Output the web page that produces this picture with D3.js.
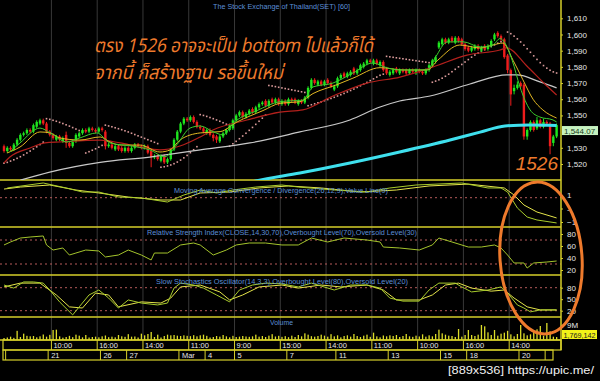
<!DOCTYPE html>
<html>
<head>
<meta charset="utf-8">
<script src="https://cdnjs.cloudflare.com/ajax/libs/d3/7.8.5/d3.min.js"></script>
<style>
body { margin: 0; background: #000; }
svg { display: block; font-family: "Liberation Sans", Arial, sans-serif; }
</style>
</head>
<body>
<svg id="chart" width="600" height="381"></svg>
<script>
// hourly SET bars, 20 Feb - 21 Mar
const open = [
  1531,1528,1530,1529,1532,1535,1538,1539,1541,1540,
  1543,1545,1547,1545,1540,1538,1535,1537,1534,1538,
  1533,1531,1534,1537,1539,1541,1540,1542,1541,1540,
  1542,1540,1531,1532,1529,1531,1530,1528,1530,1528,
  1530,1532,1531,1530,1531,1528,1524,1525,1522,1525,
  1521,1523,1529,1535,1540,1545,1548,1547,1549,1546,
  1543,1542,1539,1541,1538,1537,1534,1537,1539,1541,
  1542,1547,1550,1552,1549,1551,1554,1552,1555,1557,
  1559,1556,1560,1558,1560,1557,1559,1557,1560,1560,
  1557,1559,1558,1561,1567,1572,1569,1571,1569,1572,
  1570,1566,1568,1573,1576,1574,1575,1579,1576,1578,
  1580,1582,1584,1582,1584,1581,1583,1579,1575,1576,
  1579,1576,1578,1578,1576,1578,1576,1578,1577,1576,
  1578,1581,1583,1592,1594,1597,1595,1598,1595,1598,
  1597,1594,1592,1590,1591,1593,1590,1593,1591,1593,
  1597,1601,1599,1597,1587,1578,1565,1567,1570,1569,
  1537,1541,1546,1542,1547,1543,1546,1545,1533,1537
];
const high = [
  1532,1531,1531,1533,1536,1539,1540,1542,1542,1545,
  1547,1548,1548,1546,1541,1539,1538,1538,1537,1540,
  1534,1535,1539,1540,1542,1542,1543,1543,1542,1543,
  1543,1541,1533,1533,1532,1532,1531,1531,1531,1531,
  1533,1533,1532,1532,1532,1529,1526,1526,1526,1526,
  1524,1530,1536,1541,1546,1549,1549,1550,1550,1547,
  1544,1543,1542,1542,1539,1538,1538,1540,1542,1545,
  1548,1551,1553,1553,1552,1554,1555,1556,1558,1559,
  1560,1560,1561,1561,1561,1560,1560,1561,1561,1561,
  1560,1560,1562,1568,1573,1573,1572,1572,1572,1573,
  1571,1569,1574,1576,1577,1577,1578,1580,1579,1582,
  1583,1585,1585,1585,1585,1584,1584,1580,1578,1579,
  1580,1579,1579,1579,1579,1579,1579,1579,1578,1579,
  1582,1585,1587,1596,1598,1598,1598,1599,1599,1599,
  1598,1595,1593,1593,1594,1594,1593,1594,1594,1597,
  1601,1602,1600,1598,1588,1579,1569,1571,1571,1570,
  1542,1547,1547,1549,1548,1548,1547,1546,1538,1545
];
const low = [
  1527,1527,1528,1528,1531,1534,1537,1538,1539,1539,
  1542,1544,1544,1539,1537,1535,1534,1534,1533,1530,
  1530,1530,1533,1536,1538,1539,1539,1540,1539,1539,
  1540,1529,1530,1529,1528,1528,1527,1527,1527,1527,
  1529,1530,1529,1529,1526,1518,1523,1522,1521,1520,
  1520,1522,1528,1534,1539,1544,1546,1546,1545,1542,
  1541,1539,1538,1537,1534,1533,1533,1536,1538,1540,
  1541,1546,1549,1548,1548,1550,1551,1551,1554,1556,
  1555,1555,1557,1557,1556,1556,1556,1556,1558,1557,
  1556,1557,1557,1560,1566,1569,1568,1568,1568,1569,
  1567,1565,1567,1572,1573,1573,1574,1575,1575,1577,
  1579,1581,1582,1581,1581,1580,1577,1575,1574,1575,
  1576,1575,1576,1575,1575,1576,1575,1576,1575,1575,
  1577,1580,1582,1591,1593,1594,1594,1595,1594,1595,
  1593,1590,1589,1589,1590,1590,1589,1590,1590,1592,
  1596,1598,1596,1585,1576,1556,1563,1566,1567,1535,
  1535,1540,1540,1541,1542,1542,1544,1526,1531,1536
];
const close = [
  1528,1530,1529,1532,1535,1538,1539,1541,1540,1544,
  1546,1547,1545,1540,1538,1536,1537,1535,1536,1533,
  1531,1534,1538,1539,1541,1540,1542,1541,1540,1542,
  1541,1531,1532,1530,1531,1529,1528,1530,1528,1530,
  1532,1531,1530,1531,1527,1524,1525,1523,1525,1521,
  1523,1529,1535,1540,1545,1548,1547,1549,1546,1543,
  1542,1540,1541,1538,1536,1535,1537,1539,1541,1544,
  1547,1550,1552,1549,1551,1553,1552,1555,1557,1558,
  1556,1559,1558,1560,1557,1559,1557,1560,1559,1558,
  1559,1558,1561,1567,1572,1570,1571,1569,1571,1570,
  1568,1568,1573,1575,1574,1576,1577,1576,1578,1581,
  1582,1584,1583,1584,1582,1583,1578,1576,1577,1578,
  1577,1578,1577,1576,1578,1577,1578,1577,1576,1578,
  1581,1584,1586,1595,1597,1595,1597,1596,1598,1596,
  1594,1591,1590,1592,1593,1591,1592,1591,1593,1596,
  1600,1599,1597,1586,1578,1563,1567,1569,1568,1537,
  1541,1546,1541,1547,1543,1546,1545,1531,1537,1544.07
];
// volume in millions
const volume = [
  1.2,1.5,2.0,1.3,5.5,1.8,3.8,2.5,2.2,2.4,
  1.6,2.2,3.3,2.0,3.1,6.0,6.2,2.2,1.4,1.8,
  2.5,1.7,3.2,2.6,1.6,3.0,1.5,1.8,2.0,1.6,
  2.2,2.7,1.7,2.0,1.6,3.0,2.2,1.9,3.5,2.0,
  2.1,1.5,3.8,2.8,3.6,4.8,1.8,3.2,1.5,2.4,
  3.2,2.8,3.0,2.6,2.4,2.8,2.5,2.3,2.9,2.2,
  2.8,3.2,2.5,1.5,1.8,2.4,2.0,3.0,2.2,1.6,
  2.5,1.8,2.0,2.4,2.1,1.9,2.2,3.2,2.0,2.4,
  1.8,2.6,3.5,2.1,2.5,1.9,2.3,1.7,2.6,1.8,
  3.0,2.2,4.0,3.2,2.3,2.0,2.4,3.2,2.6,2.0,
  3.5,2.2,2.8,1.6,2.4,2.8,2.0,3.6,2.4,1.8,
  2.6,3.2,1.9,4.4,2.2,1.6,2.7,2.2,2.8,2.4,
  3.0,1.8,2.4,3.6,2.2,1.9,2.6,2.1,3.4,2.0,
  2.8,2.2,3.6,6.2,4.0,3.2,2.6,2.4,1.8,6.6,
  2.0,3.0,6.0,3.0,2.4,3.2,9.0,8.2,4.6,3.0,
  6.0,2.6,3.8,4.4,5.5,3.4,2.2,3.6,9.0,4.0,
  2.8,3.4,4.8,6.4,8.4,2.6,10.2,5.2,2.0,1.769142
];
const lastVolume = 1769142;
// parabolic SAR, one dot per bar
const sar = [
  1520.5,1521,1521.8,1522.6,1523.5,1524.5,1525.6,1526.8,1528,1529.3,1530.6,1532,1533.5,
  1548,1547.6,1547,1546.4,1545.7,1545,1544.2,1543.4,1542.5,1541.6,1540.7,1539.8,
  1526.8,1527.6,1528.5,1529.4,1530.4,1531.5,
  1544,1543.5,1543,1542.4,1541.8,1541.2,1540.5,1539.8,1539,1538.2,1537.4,1536.6,1535.8,1535,1534.2,1533.4,1532.6,
  1518,1518.3,1518.8,1519.4,1520.2,1521.2,1522.4,1523.8,1525.3,1527,1528.8,1530.7,
  1550.5,1550,1549.4,1548.7,1548,1547.2,1546.4,1545.5,1544.6,
  1531,1532.5,1534,1535.6,1537.3,1539,1540.8,1542.6,1544.5,1546.4,1548.3,1550.2,
  1568.5,1568.2,1567.8,1567.4,1567,1566.6,1566.2,1565.8,1565.4,1565,1564.6,1564.2,
  1556,1556.6,1557.2,1557.8,1558.4,1559.1,1559.8,1560.5,1561.2,1562,1562.8,1563.6,
  1564.5,1565.4,1566.3,1567.3,1568.3,1569.3,1570.4,1571.5,1572.6,1573.7,1574.8,1575.5,
  1586.5,1586.2,1585.9,1585.6,1585.3,1585,1584.7,1584.4,1584.1,1583.8,1583.5,1583.2,1582.9,1582.6,
  1570.5,1571.2,1572,1573,1574.2,1575.5,1577,1578.5,1580,1581.5,1583,1584.5,1586,1587.3,
  1588.5,1589.6,1590.6,1591.6,1592.6,1593.6,1594.6,1595.5,1596.3,
  1601.5,1600.5,1599,1597.3,1595.4,1593.4,1591.2,1589,1586.8,1584.6,1582.6,1580.8,1579.2,1577.9,1576.9,1576.2
];

// moving averages as [bar, price]
const maGreen = [[1.8,1527.4],[4.9,1533],[11,1542.2],[14.1,1539.2],[19.3,1533.6],[23.2,1536.1],[28.4,1539.2],[32.4,1533],[39.4,1531],[44.6,1528.7],[49.2,1524.5],[52.9,1532],[56.9,1542.2],[60,1543.5],[63.9,1540],[67,1538],[70,1545],[77.4,1553],[84.4,1558.5],[91.4,1559.5],[94.5,1567.6],[100.6,1570],[106.7,1576.2],[112.8,1582.4],[117,1579.5],[121.1,1578.1],[129.4,1578.1],[132,1586.1],[135.5,1595.4],[140.4,1595.5],[145.6,1592.3],[149.5,1593.5],[151.7,1597.5],[153.2,1594.7],[155.4,1584.2],[157.8,1567.6],[160.9,1553.4],[163.9,1549],[167.9,1547.2],[169,1546]];
const maYellow = [[0.9,1526.8],[4.9,1530.5],[11,1539.8],[14.1,1539.2],[17.1,1536.1],[23.2,1534.8],[29.4,1536.7],[32.4,1533.6],[35.5,1531.7],[41.6,1531.7],[47.7,1527.4],[50.8,1528.7],[53.8,1534.8],[60,1539.2],[66.1,1540],[71.3,1546],[79.2,1553],[84.4,1557.5],[90.5,1558.5],[94.5,1563.5],[101.8,1569],[106.7,1573],[115,1579.5],[122,1578.1],[129.4,1578.1],[132.7,1584.2],[139.4,1593.5],[145.6,1591.7],[149.5,1593.5],[152.6,1594.7],[155.7,1584],[158.7,1572],[161.8,1560],[164.8,1553.4],[169,1548.4]];
const maRed = [[0,1520.6],[1.8,1524.3],[8,1529.9],[12.5,1533],[17.1,1533.6],[29.4,1534.8],[35.5,1533],[41.6,1530.5],[47.7,1528.7],[53.8,1531.1],[60,1536.7],[63.9,1541],[74.3,1547.2],[84.4,1552.1],[91.4,1553.4],[100.6,1562],[111,1570],[121.1,1573.7],[131.2,1579.9],[141.6,1587.3],[151.7,1590.4],[153.8,1591.7],[159.9,1580.5],[165.4,1569.4],[169,1562.6]];
const maWhite = [[5,1510],[14,1515],[29.4,1521],[44.6,1524.3],[60,1528.7],[75.2,1533],[90.5,1539.8],[105.8,1547.2],[115,1555.2],[121,1558.9],[130.3,1562],[142.5,1569.4],[153.8,1575],[156.9,1575],[163.9,1570.7],[169,1567]];
const maCyan = [[70,1506],[77,1509.5],[90.5,1514.4],[105.8,1520.6],[121,1527.4],[136.4,1534.8],[145.6,1539.7],[153.2,1543.5],[160.9,1544.1],[169,1543.8]];

const macdLine = [[1,1.52],[12,1.89],[19,1.52],[24,1.22],[29,1.22],[35,0.85],[42,0.78],[50,0.48],[55,1.0],[60,1.37],[65,1.15],[70,1.37],[77,1.59],[85,1.74],[90,1.59],[101,1.37],[111,1.22],[118,1.52],[126,1.74],[140,1.89],[148,1.52],[152,1.52],[154,1.22],[157,0.04],[160,-0.63],[163,-0.85],[169,-1.07]];
const macdSignal = [[0,1.44],[5,1.59],[14,1.74],[22,1.37],[29,1.15],[38,0.85],[48,0.63],[54,0.63],[60,1.15],[69,1.22],[78,1.52],[87,1.67],[97,1.52],[109,1.22],[120,1.37],[130,1.67],[142,1.81],[153,1.52],[156,1.0],[159,0.26],[163,-0.26],[169,-0.7]];
const rsiLine = [[0,61.7],[2,66.7],[5,73.3],[8,75],[12,76.7],[13,61.7],[15,53.3],[18,56.7],[20,45],[22,48.3],[25,53.3],[29,51.7],[31,41.7],[35,45],[38,53.3],[42,45],[45,36.7],[46,48.3],[50,48.3],[54,61.7],[58,65],[60,61.7],[64,45],[68,53.3],[71,61.7],[75,65],[80,65],[85,61.7],[90,61.7],[94,73.3],[99,66.7],[104,73.3],[111,70],[115,66.7],[116,58.3],[121,56.7],[127,53.3],[131,61.7],[133,73.3],[137,66.7],[142,58.3],[146,58.3],[150,61.7],[152,56.7],[154,45],[156,31.7],[159,31.7],[160,23.3],[162,31.7],[166,33.3],[169,35]];
const stochK = [[0,87],[3,79],[6,95],[9,95],[12,92],[14,74],[17,43],[21,9],[23,30],[26,61],[29,74],[32,53],[35,27],[38,48],[42,40],[47,35],[50,40],[52,79],[54,92],[58,87],[61,79],[65,61],[69,43],[72,74],[76,87],[80,92],[85,90],[90,82],[94,92],[101,74],[106,87],[111,87],[115,79],[118,53],[122,45],[127,45],[130,74],[133,92],[138,92],[140,82],[143,69],[148,74],[152,82],[154,66],[157,35],[159,27],[161,17],[164,22],[169,22]];
const stochD = [[0,82],[5,92],[11,92],[16,61],[20,30],[24,27],[28,66],[32,61],[35,30],[42,43],[48,40],[51,53],[54,82],[60,87],[66,69],[69,48],[73,61],[78,82],[85,87],[90,79],[97,87],[103,82],[111,87],[116,74],[120,48],[127,48],[131,61],[135,87],[139,92],[143,79],[149,71],[153,74],[156,53],[160,30],[164,22],[169,22]];

// 1,540 sits under the last-price box, so it is not listed
const priceTicks = [1520,1530,1550,1560,1570,1580,1590,1600,1610];
const macdTicks = [1,0,-1];
const rsiTicks = [80,60,40,20];
const stochTicks = [80,50,20];
const volTicks = [9];
const hourTicks = [[14.5,'10:00'],[28.5,'16:00'],[42.5,'14:00'],[56.5,'11:00'],[70.5,'9:00'],[84.5,'15:00'],[98.5,'14:00'],[112.5,'11:00'],[126.5,'10:00'],[140.5,'16:00'],[154.5,'14:00']];
const dayTicks = [[0.5,''],[13.5,'21'],[29.5,'26'],[37.5,'27'],[53.5,'Mar'],[61.5,'4'],[70.5,'5'],[86.5,'7'],[101.5,'11'],[117.5,'13'],[133.5,'15'],[141.5,'18'],[157.5,'20'],[165.5,'']];

const PLOT_RIGHT = 561;
const YELLOW = '#d6cf2a';
const BLUE = '#5b8fd6';
const ORANGE = '#ee7a2c';

let svg = d3.select('#chart');
svg.append('rect').attr('width', 600).attr('height', 381).attr('fill', '#000');

let x = d3.scaleLinear().domain([0, 169]).range([4, 556.6]);
let priceY = d3.scaleLinear().domain([1520, 1610]).range([164, 18.3]);
let macdY = d3.scaleLinear().domain([-1, 1]).range([222, 195]);
let rsiY = d3.scaleLinear().domain([20, 80]).range([270, 234]);
let stochY = d3.scaleLinear().domain([20, 80]).range([310.7, 287.7]);
let volY = d3.scaleLinear().domain([0, 9]).range([340, 325]);

let panels = [
    {id: 'clipPrice', y0: 0, y1: 180},
    {id: 'clipMacd', y0: 180, y1: 227},
    {id: 'clipRsi', y0: 227, y1: 275},
    {id: 'clipStoch', y0: 275, y1: 317},
    {id: 'clipVol', y0: 317, y1: 340}
];
let defs = svg.append('defs');
panels.forEach(p => {
    defs.append('clipPath').attr('id', p.id).append('rect')
        .attr('x', 0).attr('y', p.y0).attr('width', PLOT_RIGHT).attr('height', p.y1 - p.y0);
});

// vertical grid lines at hour ticks
svg.append('g').selectAll('line').data(hourTicks).join('line')
    .attr('x1', d => x(d[0])).attr('x2', d => x(d[0]))
    .attr('y1', 0).attr('y2', 340)
    .attr('stroke', '#383838').attr('stroke-width', 1);

// dotted level lines
let levels = [[macdY, 0.8], [rsiY, 70], [rsiY, 30], [stochY, 80], [stochY, 20]];
svg.append('g').selectAll('line').data(levels).join('line')
    .attr('x1', 0).attr('x2', PLOT_RIGHT)
    .attr('y1', d => d[0](d[1])).attr('y2', d => d[0](d[1]))
    .attr('stroke', '#b65a5a').attr('stroke-dasharray', '2,3');

// panel borders
svg.append('g').selectAll('line').data([180, 227, 275, 317, 340]).join('line')
    .attr('x1', 0).attr('x2', PLOT_RIGHT).attr('y1', d => d).attr('y2', d => d)
    .attr('stroke', YELLOW).attr('stroke-width', 1.5);

// price panel
let price = svg.append('g').attr('clip-path', 'url(#clipPrice)');

price.append('g').selectAll('rect').data(sar).join('rect')
    .attr('x', (d, i) => x(i) - 0.8).attr('y', d => priceY(d) - 0.8)
    .attr('width', 1.6).attr('height', 1.6).attr('fill', '#d99a9a');

let candleColor = i => close[i] >= open[i] ? '#1ee61e' : '#ef1c1c';
let bars = price.append('g').selectAll('g').data(d3.range(close.length)).join('g');
bars.append('line')
    .attr('x1', i => x(i)).attr('x2', i => x(i))
    .attr('y1', i => priceY(high[i])).attr('y2', i => priceY(low[i]))
    .attr('stroke', candleColor).attr('stroke-width', 1);
bars.append('rect')
    .attr('x', i => x(i) - 1.2).attr('width', 2.4)
    .attr('y', i => priceY(Math.max(open[i], close[i])))
    .attr('height', i => Math.max(1, Math.abs(priceY(open[i]) - priceY(close[i]))))
    .attr('fill', candleColor);

function drawLine(g, data, yScale, color, width, curve) {
    let line = d3.line().x(d => x(d[0])).y(d => yScale(d[1])).curve(curve || d3.curveLinear);
    g.append('path').datum(data).attr('d', line)
        .attr('fill', 'none').attr('stroke', color).attr('stroke-width', width);
}

drawLine(price, maWhite, priceY, '#c8c8c8', 1.2, d3.curveMonotoneX);
drawLine(price, maRed, priceY, '#b3201c', 1.2, d3.curveMonotoneX);
drawLine(price, maYellow, priceY, '#e2b823', 1, d3.curveMonotoneX);
drawLine(price, maGreen, priceY, '#3ccf2e', 1, d3.curveMonotoneX);
drawLine(price, maCyan, priceY, '#3fe0ee', 3, d3.curveMonotoneX);

// indicator panels
let macdG = svg.append('g').attr('clip-path', 'url(#clipMacd)');
drawLine(macdG, macdSignal, macdY, '#e4e44a', 1);
drawLine(macdG, macdLine, macdY, '#a8cc2c', 1);

let rsiG = svg.append('g').attr('clip-path', 'url(#clipRsi)');
drawLine(rsiG, rsiLine, rsiY, '#a4c42c', 1);

let stochG = svg.append('g').attr('clip-path', 'url(#clipStoch)');
drawLine(stochG, stochD, stochY, '#e4e44a', 1);
drawLine(stochG, stochK, stochY, '#a8cc2c', 1);

let volG = svg.append('g').attr('clip-path', 'url(#clipVol)');
volG.selectAll('rect').data(volume).join('rect')
    .attr('x', (d, i) => x(i) - 0.6).attr('width', 1.3)
    .attr('y', d => volY(d)).attr('height', d => 340 - volY(d))
    .attr('fill', '#dcdc2a');

// right axes
function rightAxis(scale, ticks, fmt) {
    let g = svg.append('g').attr('transform', `translate(${PLOT_RIGHT},0)`)
        .call(d3.axisRight(scale).tickValues(ticks).tickFormat(fmt).tickSize(2).tickPadding(4));
    g.select('.domain').remove();
    g.selectAll('line').attr('stroke', YELLOW);
    g.selectAll('text').attr('fill', '#e6e6e6').attr('font-size', 8)
        .attr('font-family', '"Liberation Sans", Arial, sans-serif');
    return g;
}
rightAxis(priceY, priceTicks, d3.format(','));
rightAxis(macdY, macdTicks, d => d === 0 ? '-' : d3.format('')(d));
rightAxis(rsiY, rsiTicks, d3.format(''));
rightAxis(stochY, stochTicks, d3.format(''));
rightAxis(volY, volTicks, d => d + 'M');

svg.append('line').attr('x1', PLOT_RIGHT).attr('x2', PLOT_RIGHT).attr('y1', 0).attr('y2', 350)
    .attr('stroke', YELLOW).attr('stroke-width', 1.5);

// last value boxes
let lastClose = close[close.length - 1];
let lastBox = svg.append('g').attr('transform', `translate(562,${priceY(lastClose) + 1})`);
lastBox.append('rect').attr('width', 36).attr('height', 9).attr('fill', '#c6f2c0');
lastBox.append('text').attr('x', 2).attr('y', 7.5).attr('font-size', 8).attr('fill', '#1a3a1a')
    .text(d3.format(',.2f')(lastClose));

let lastVol = svg.append('g').attr('transform', 'translate(562,330)');
lastVol.append('rect').attr('width', 35).attr('height', 9).attr('fill', '#f2f218');
lastVol.append('text').attr('x', 1.5).attr('y', 7.5).attr('font-size', 7.5).attr('fill', '#222')
    .attr('textLength', 32).attr('lengthAdjust', 'spacingAndGlyphs')
    .text(d3.format(',')(lastVolume));

// time axis
let timeAxis = svg.append('g');
timeAxis.append('rect').attr('x', 3).attr('y', 340).attr('width', PLOT_RIGHT - 3).attr('height', 10)
    .attr('fill', 'none').attr('stroke', YELLOW).attr('stroke-width', 1.2);
timeAxis.append('rect').attr('x', 3).attr('y', 350).attr('width', 550).attr('height', 10)
    .attr('fill', 'none').attr('stroke', YELLOW).attr('stroke-width', 1.2);
timeAxis.selectAll('line.hour').data(hourTicks).join('line').classed('hour', true)
    .attr('x1', d => x(d[0])).attr('x2', d => x(d[0])).attr('y1', 340).attr('y2', 350)
    .attr('stroke', YELLOW);
timeAxis.selectAll('text.hour').data(hourTicks).join('text').classed('hour', true)
    .attr('x', d => x(d[0]) + 2).attr('y', 348).attr('font-size', 7.5).attr('fill', '#e6e6e6')
    .text(d => d[1]);
timeAxis.selectAll('line.day').data(dayTicks).join('line').classed('day', true)
    .attr('x1', d => x(d[0])).attr('x2', d => x(d[0])).attr('y1', 350).attr('y2', 360)
    .attr('stroke', YELLOW);
timeAxis.selectAll('text.day').data(dayTicks).join('text').classed('day', true)
    .attr('x', d => x(d[0]) + 3).attr('y', 358).attr('font-size', 7.5).attr('fill', '#e6e6e6')
    .text(d => d[1]);

// titles
svg.append('text').attr('x', 213).attr('y', 9).attr('font-size', 7.5).attr('fill', BLUE)
    .attr('textLength', 137).attr('lengthAdjust', 'spacingAndGlyphs')
    .text('The Stock Exchange of Thailand(SET) [60]');
let panelTitles = [
    [174, 193, 214, 'Moving Average Convergence / Divergence(26,12,9),Value Line(9)'],
    [147, 235, 270, 'Relative Strength Index(CLOSE,14,30,70),Overbought Level(70),Oversold Level(30)'],
    [156, 284, 252, 'Slow Stochastics Oscillator(14,3,3),Overbought Level(80),Oversold Level(20)'],
    [270, 325, 23, 'Volume']
];
svg.append('g').selectAll('text').data(panelTitles).join('text')
    .attr('x', d => d[0]).attr('y', d => d[1]).attr('font-size', 7.5).attr('fill', BLUE)
    .attr('textLength', d => d[2]).attr('lengthAdjust', 'spacingAndGlyphs')
    .text(d => d[3]);

// annotation
let note = svg.append('g').attr('fill', ORANGE).attr('font-style', 'italic')
    .attr('font-family', 'Tahoma, "Noto Sans Thai", "Noto Sans", "DejaVu Sans", sans-serif');
note.append('text').attr('x', 94).attr('y', 52).attr('font-size', 19)
    .attr('textLength', 279).attr('lengthAdjust', 'spacingAndGlyphs')
    .text('ตรง 1526 อาจจะเป็น bottom ไปแล้วก็ได้');
note.append('text').attr('x', 94).attr('y', 79).attr('font-size', 19)
    .attr('textLength', 189).attr('lengthAdjust', 'spacingAndGlyphs')
    .text('จากนี้ ก็สร้างฐาน รอขึ้นใหม่');
note.append('text').attr('x', 558).attr('y', 170).attr('font-size', 19).attr('text-anchor', 'end')
    .attr('font-family', '"Liberation Sans", Arial, sans-serif')
    .text('1526');

svg.append('ellipse').attr('cx', 541).attr('cy', 258).attr('rx', 41).attr('ry', 76)
    .attr('transform', 'rotate(-4,541,258)')
    .attr('fill', 'none').attr('stroke', ORANGE).attr('stroke-width', 3);

svg.append('text').attr('x', 448).attr('y', 374).attr('font-size', 11).attr('fill', '#f0f0f0')
    .attr('font-family', '"Liberation Sans Narrow", "Liberation Sans", sans-serif')
    .attr('textLength', 146).attr('lengthAdjust', 'spacingAndGlyphs')
    .text('[889x536] https://upic.me/');
</script>
</body>
</html>
